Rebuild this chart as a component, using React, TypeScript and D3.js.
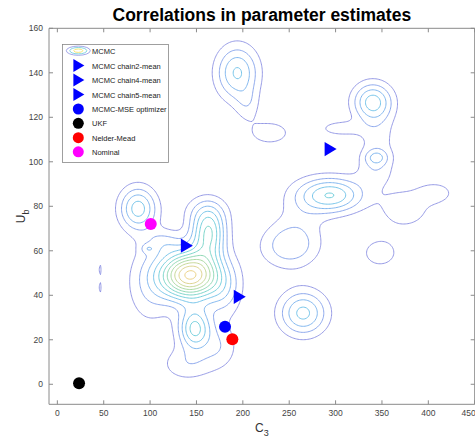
import React, { useMemo } from "react";
import * as d3 from "d3";

// ---------- data ----------
const xTicks = [0, 50, 100, 150, 200, 250, 300, 350, 400, 450];
const yTicks = [0, 20, 40, 60, 80, 100, 120, 140, 160];

const bumpC3 = [143, 163, 87, 148, 115, 97, 100, 180, 140, 175, 160, 295, 250, 340, 344, 345, 305, 408, 375, 348, 194, 205, 229, 265, 46, 46, 262, 343];
const bumpUb = [49, 68, 79, 25, 64, 61, 45, 42, 9, 17, 78, 85, 62, 127, 102, 110, 115, 86, 79, 59, 140, 126, 113, 32, 51.5, 43.5, 76, 96];
const bumpSC3 = [22, 13, 14, 12, 14, 5, 18, 14, 20, 14, 18, 24, 22, 15, 9, 15, 16, 14, 20, 18, 16, 9, 23, 18, 0.9, 0.9, 20, 14];
const bumpSUb = [7.5, 8, 6.8, 6.5, 4, 1.5, 13, 9, 5.5, 7, 5, 5.5, 7, 6, 2.5, 10, 2.5, 3.5, 6.5, 6, 8.5, 5, 5.5, 7, 2.3, 2.3, 10, 5];
const bumpW = [0.72, 0.38, 0.29, 0.34, 0.1, 0.08, 0.12, 0.13, 0.11, 0.11, 0.08, 0.32, 0.17, 0.28, 0.13, 0.09, 0.1, 0.1, 0.11, 0.09, 0.27, 0.08, 0.085, 0.28, 0.11, 0.11, 0.06, 0.08];
const levelCount = 14;
const levelStep = 0.065;

const markerNames = ["MCMC chain2-mean", "MCMC chain4-mean", "MCMC chain5-mean", "MCMC-MSE optimizer", "UKF", "Nelder-Mead", "Nominal"];
const markerC3 = [139, 196, 294, 180.8, 23.4, 188.7, 100.7];
const markerUb = [62.3, 39.3, 105.7, 25.9, 0.5, 20.2, 72];
const markerShape = ["tri", "tri", "tri", "dot", "dot", "dot", "dot"];
const markerColor = ["#0000ff", "#0000ff", "#0000ff", "#0000ff", "#000000", "#ff0000", "#ff00ff"];

// ---------- layout ----------
const W = 475, H = 438;
const L = 49, R = 474.7, T = 28.3, B = 404.3;
const FONT = "'Liberation Sans', Arial, Helvetica, sans-serif";

export default function App() {
  const x = d3.scaleLinear().domain([-9, 450]).range([L, R]);
  const y = d3.scaleLinear().domain([-9, 160]).range([B, T]);

  const rings = useMemo(() => {
    const dx = 1.5, dy = 0.6;
    const x0 = -9, y0 = -9;
    const nx = Math.round(459 / dx) + 1;
    const ny = Math.round(169 / dy) + 1;
    const vals = new Float64Array(nx * ny);
    for (let j = 0; j < ny; j++) {
      const ub = y0 + j * dy;
      for (let i = 0; i < nx; i++) {
        const c = x0 + i * dx;
        let s = 0;
        for (let k = 0; k < bumpW.length; k++) {
          const a = (c - bumpC3[k]) / bumpSC3[k];
          const b = (ub - bumpUb[k]) / bumpSUb[k];
          const e = 0.5 * (a * a + b * b);
          if (e < 12) s += bumpW[k] * Math.exp(-e);
        }
        vals[j * nx + i] = s;
      }
    }
    const thresholds = d3.range(1, levelCount + 1).map((k) => k * levelStep);
    const cs = d3.contours().size([nx, ny]).thresholds(thresholds)(Array.from(vals));
    const out: { d: string; level: number }[] = [];
    cs.forEach((c, li) => {
      c.coordinates.forEach((poly) => {
        poly.forEach((ring) => {
          const pts = ring.map(([gx, gy]) => [x(x0 + (gx - 0.5) * dx), y(y0 + (gy - 0.5) * dy)] as [number, number]);
          const d = d3.line()(pts);
          if (d) out.push({ d: d + "Z", level: li });
        });
      });
    });
    return out;
  }, []);

  const colorOf = d3.interpolateRgbBasis(["#8a8ee2", "#7aa8f0", "#62c4e8", "#66d0c8", "#8fd6a0", "#c6d487", "#ebc77e", "#f3d96a", "#f4ec3c"]);
  const col = (li: number) => colorOf(li / (levelCount - 1));

  const triPath = (cx: number, cy: number, s: number) => `M${cx - s * 0.45},${cy - s * 0.6}L${cx + s * 0.55},${cy}L${cx - s * 0.45},${cy + s * 0.6}Z`;

  const axisColor = "#8a8a8a";
  const textColor = "#444";

  const legX = 62.5, legY = 44.5, legW = 106, legH = 118;
  const rowY = [50.7, 65.5, 80, 94.5, 109, 123.3, 137.7, 151.8];

  return (
    <svg width={W} height={H} style={{ position: "absolute", left: 0, top: 0, background: "#fff" }} fontFamily={FONT}>
      <rect x={0} y={0} width={W} height={H} fill="#fff" />
      {/* title */}
      <text x={(L + R) / 2} y={21} textAnchor="middle" fontSize={17.5} fontWeight="bold" fill="#000">Correlations in parameter estimates</text>

      {/* contours */}
      <g fill="none" strokeWidth={0.9} strokeLinejoin="round">
        {rings.map((r, i) => (
          <path key={i} d={r.d} stroke={col(r.level)} />
        ))}
      </g>

      {/* axes box */}
      <g stroke={axisColor} strokeWidth={1} fill="none">
        <line x1={L} y1={B} x2={R} y2={B} />
        <line x1={L} y1={T} x2={R} y2={T} />
        <line x1={L} y1={T} x2={L} y2={B} />
        <line x1={R} y1={T} x2={R} y2={B} />
        {xTicks.map((t) => (
          <g key={"xt" + t}>
            <line x1={x(t)} x2={x(t)} y1={B} y2={B - 4} />
            <line x1={x(t)} x2={x(t)} y1={T} y2={T + 4} />
          </g>
        ))}
        {yTicks.map((t) => (
          <g key={"yt" + t}>
            <line x1={L} x2={L + 4} y1={y(t)} y2={y(t)} />
            <line x1={R} x2={R - 4} y1={y(t)} y2={y(t)} />
          </g>
        ))}
      </g>
      <g fontSize={8.5} fill={textColor}>
        {xTicks.map((t) => (
          <text key={"xl" + t} x={t === 450 ? x(t) - 6 : x(t)} y={B + 12} textAnchor="middle">{t}</text>
        ))}
        {yTicks.map((t) => (
          <text key={"yl" + t} x={L - 6} y={y(t) + 3} textAnchor="end">{t}</text>
        ))}
      </g>
      {/* axis labels */}
      <text x={(L + R) / 2} y={432} textAnchor="middle" fontSize={12} fill="#333">
        C<tspan fontSize={9} dy={4}>3</tspan>
      </text>
      <text transform={`translate(25,${(T + B) / 2}) rotate(-90)`} textAnchor="middle" fontSize={12} fill="#333">
        U<tspan fontSize={9} dy={4}>b</tspan>
      </text>

      {/* markers */}
      {markerC3.map((c, i) =>
        markerShape[i] === "tri" ? (
          <path key={"m" + i} d={triPath(x(c), y(markerUb[i]), 12)} fill={markerColor[i]} />
        ) : (
          <circle key={"m" + i} cx={x(c)} cy={y(markerUb[i])} r={6} fill={markerColor[i]} />
        )
      )}

      {/* legend */}
      <rect x={legX} y={legY} width={legW} height={legH} fill="#fff" stroke="#888" strokeWidth={0.8} />
      <g fill="none" strokeWidth={0.8}>
        <ellipse cx={78.3} cy={rowY[0]} rx={12} ry={4.6} stroke={col(0)} />
        <ellipse cx={78.3} cy={rowY[0]} rx={8.5} ry={3.2} stroke={col(4)} />
        <ellipse cx={78.3} cy={rowY[0]} rx={4.5} ry={1.7} stroke={col(12)} />
      </g>
      <text x={92} y={rowY[0] + 3} fontSize={7.5} fill="#222">MCMC</text>
      {markerNames.map((n, i) => (
        <g key={"lg" + i}>
          {markerShape[i] === "tri" ? (
            <path d={triPath(78.3, rowY[i + 1], 11)} fill={markerColor[i]} />
          ) : (
            <circle cx={78.3} cy={rowY[i + 1]} r={5.5} fill={markerColor[i]} />
          )}
          <text x={92} y={rowY[i + 1] + 3} fontSize={7.5} fill="#222">{n}</text>
        </g>
      ))}
    </svg>
  );
}
